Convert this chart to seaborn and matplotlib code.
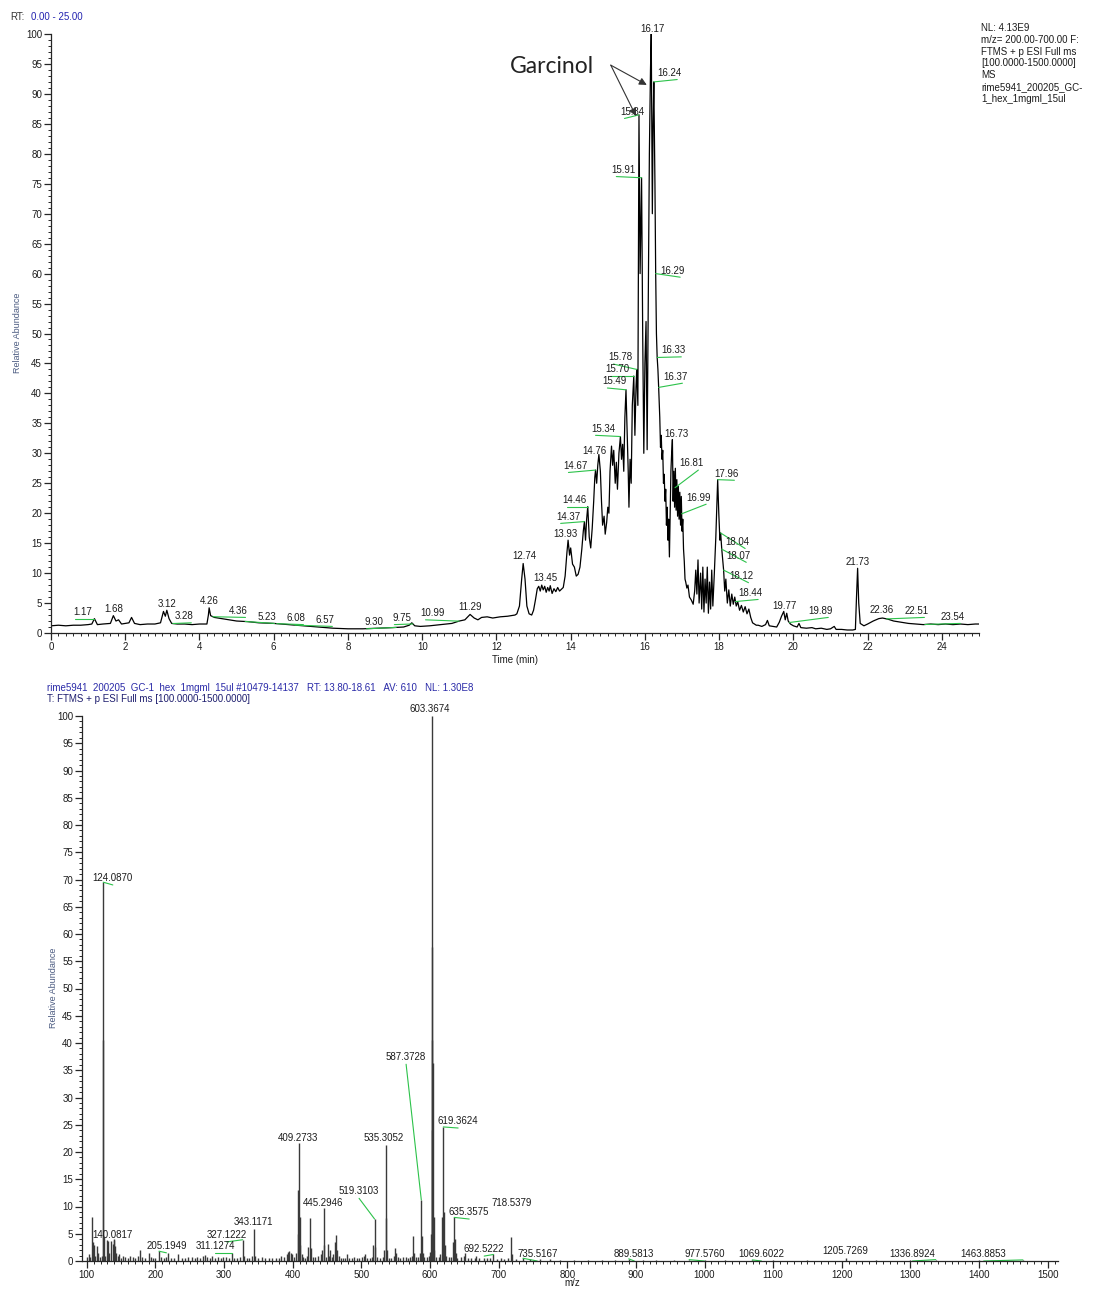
import numpy as np
import pandas as pd
import matplotlib
matplotlib.use("Agg")
import matplotlib.pyplot as plt
from matplotlib.ticker import MultipleLocator
import seaborn as sns

# ---------------- chromatogram (TIC) data ----------------
rt_early = [0.0, 0.2, 0.4, 0.6, 0.8, 1.0, 1.1, 1.17, 1.25, 1.4, 1.6, 1.68, 1.75, 1.82, 1.9, 2.0, 2.1,
            2.17, 2.25, 2.4, 2.6, 2.8, 2.95, 3.03, 3.08, 3.12, 3.18, 3.25, 3.4, 3.6, 3.8, 4.0, 4.2,
            4.24, 4.26, 4.3, 4.4, 4.6, 4.8, 5.0, 5.3, 5.6, 6.0, 6.4, 6.8, 7.2, 7.6, 8.0, 8.4, 8.8,
            9.2, 9.5, 9.65, 9.72, 9.8, 9.95, 10.2, 10.5, 10.8, 11.0, 11.15, 11.29, 11.4, 11.5,
            11.6, 11.75, 11.9, 12.1, 12.3, 12.5]
ab_early = [1.2, 1.3, 1.2, 1.3, 1.3, 1.4, 1.5, 2.4, 1.4, 1.5, 1.6, 2.9, 2.0, 2.2, 1.5, 1.6, 1.7,
            2.6, 1.6, 1.4, 1.5, 1.5, 1.7, 3.6, 2.8, 3.8, 2.4, 1.6, 1.5, 1.5, 1.4, 1.5, 1.5,
            3.0, 4.2, 2.9, 2.6, 2.4, 2.2, 2.0, 1.9, 1.7, 1.6, 1.4, 1.2, 1.0, 0.8, 0.7, 0.7, 0.8,
            0.9, 1.0, 1.3, 1.7, 1.2, 1.1, 1.2, 1.4, 1.6, 2.0, 2.2, 3.1, 2.5, 2.2, 2.6, 2.7, 2.5,
            2.7, 2.8, 3.0]

rt_main = [12.55, 12.62, 12.68, 12.72, 12.77, 12.82, 12.88, 12.95, 13.0, 13.05, 13.1, 13.14, 13.18,
           13.22, 13.26, 13.3, 13.34, 13.38, 13.42, 13.45, 13.5, 13.55, 13.6, 13.65, 13.7, 13.75,
           13.8, 13.85, 13.9, 13.93, 13.97, 14.0, 14.05, 14.1, 14.15, 14.2, 14.25, 14.3, 14.34,
           14.37, 14.4, 14.43, 14.46, 14.5, 14.54, 14.58, 14.62, 14.65, 14.67, 14.7, 14.73, 14.76,
           14.8, 14.83, 14.86, 14.9, 14.93, 14.97, 15.0, 15.03, 15.06, 15.1, 15.13, 15.16, 15.2,
           15.23, 15.26, 15.3, 15.34, 15.37, 15.4, 15.43, 15.46, 15.49, 15.52, 15.55, 15.57, 15.6,
           15.63, 15.66, 15.7, 15.73, 15.76, 15.78, 15.81, 15.84, 15.87, 15.91, 15.94, 15.97, 16.0,
           16.03, 16.06, 16.09, 16.12, 16.15, 16.17, 16.2, 16.22, 16.24, 16.27, 16.29, 16.31,
           16.33, 16.35, 16.37, 16.4, 16.42, 16.44, 16.46, 16.48, 16.5, 16.52, 16.54, 16.56, 16.58,
           16.6, 16.62, 16.64, 16.66, 16.68, 16.7, 16.72, 16.74, 16.76, 16.78, 16.8, 16.82, 16.84,
           16.86, 16.88, 16.9, 16.92, 16.94, 16.96, 16.98, 17.0, 17.02, 17.04, 17.06, 17.08, 17.1,
           17.13, 17.16, 17.2, 17.25, 17.3, 17.34, 17.37, 17.4, 17.43, 17.46, 17.5, 17.53, 17.56,
           17.59, 17.62, 17.65, 17.68, 17.71, 17.74, 17.77, 17.8, 17.83, 17.87, 17.91, 17.94,
           17.96, 17.99, 18.02, 18.04, 18.07, 18.1, 18.12, 18.15, 18.18, 18.22, 18.26, 18.3, 18.34,
           18.38, 18.42, 18.46, 18.5, 18.55, 18.6, 18.65, 18.7, 18.75, 18.8, 18.85, 18.9, 18.95]
ab_main = [3.2, 4.5, 9.0, 11.6, 9.0, 4.5, 3.2, 3.0, 3.8, 5.5, 7.4, 7.8, 7.0,
           8.0, 7.2, 7.8, 6.8, 7.6, 7.0, 7.9, 6.6, 7.4, 6.9, 7.6, 7.0, 7.3,
           7.6, 9.5, 13.5, 15.5, 13.0, 14.2, 11.5, 11.0, 9.5, 9.8, 11.0, 14.0, 17.0,
           18.6, 15.5, 19.0, 21.1, 16.0, 14.2, 17.5, 22.0, 26.0, 27.2, 25.0, 28.0, 29.8,
           27.0, 22.0, 18.0, 19.5, 16.5, 18.5, 21.0, 20.0, 27.0, 31.2, 28.0, 30.5, 25.0,
           28.5, 24.0, 30.0, 32.8, 29.0, 31.5, 27.0, 36.0, 40.6, 34.0, 27.0, 21.0, 29.0,
           25.0, 38.0, 42.9, 33.0, 41.0, 44.0, 38.0, 86.5, 60.0, 76.0, 50.0, 30.0, 45.0,
           52.0, 30.6, 55.0, 80.0, 94.0, 100.0, 70.0, 85.0, 92.0, 75.0, 60.0, 50.0,
           46.0, 44.0, 41.0, 36.0, 31.0, 33.0, 29.0, 30.5, 25.0, 26.5, 22.0, 24.0, 18.0,
           21.0, 15.5, 19.0, 12.7, 20.0, 27.0, 30.0, 32.3, 22.0, 27.0, 21.0, 27.5, 20.5,
           25.6, 19.5, 24.5, 19.0, 23.5, 18.0, 22.8, 17.0, 19.0, 14.0, 12.0, 9.0, 8.5,
           7.5, 8.0, 6.0, 5.5, 4.8, 7.0, 10.5, 6.5, 12.2, 5.0, 10.0, 4.0, 11.0,
           3.5, 9.0, 5.0, 11.0, 3.3, 8.5, 4.0, 10.5, 4.5, 10.0, 16.0, 22.0,
           25.6, 20.0, 15.5, 16.7, 14.0, 12.0, 10.5, 7.0, 9.0, 5.0, 7.2, 4.5, 6.5,
           4.8, 6.0, 4.5, 5.2, 3.8, 4.6, 3.5, 4.4, 3.2, 4.0, 2.6, 1.7, 1.5]

rt_late = [19.0, 19.05, 19.15, 19.25, 19.3, 19.35, 19.45, 19.55, 19.62, 19.68, 19.74, 19.78, 19.82,
           19.86, 19.92, 20.0, 20.1, 20.15, 20.2, 20.35, 20.5, 20.6, 20.75, 20.9, 21.0, 21.1,
           21.15, 21.3, 21.45, 21.6, 21.67, 21.7, 21.73, 21.76, 21.8, 21.9, 22.0, 22.15, 22.3,
           22.4, 22.55, 22.7, 22.9, 23.1, 23.3, 23.5, 23.7, 23.9, 24.1, 24.3, 24.5, 24.7, 24.9, 25.0]
ab_late = [1.3, 1.3, 1.1, 1.4, 2.1, 1.2, 1.1, 1.0, 1.8, 2.8, 3.6, 2.2, 3.3,
           2.0, 1.5, 1.2, 1.0, 1.6, 0.9, 0.8, 0.9, 0.7, 0.8, 0.6, 0.7, 1.1,
           0.6, 0.6, 0.5, 0.5, 0.6, 6.0, 10.8, 5.0, 1.6, 1.2, 1.5, 2.0, 2.4,
           2.5, 2.3, 2.0, 1.8, 1.6, 1.5, 1.4, 1.5, 1.4, 1.5, 1.4, 1.5, 1.4, 1.5, 1.5]

# peak labels (chromatogram) and where their text sits
rt_labels = ['1.17', '1.68', '3.12', '3.28', '4.26', '4.36', '5.23', '6.08', '6.57', '9.30', '9.75',
             '10.99', '11.29', '12.74', '13.45', '13.93', '14.37', '14.46', '14.67', '14.76', '15.34',
             '15.49', '15.70', '15.78', '15.84', '15.91', '16.17', '16.24', '16.29', '16.33', '16.37',
             '16.73', '16.81', '16.99', '17.96', '18.04', '18.07', '18.12', '18.44', '19.77', '19.89',
             '21.73', '22.36', '22.51', '23.54']
rt_lab_x = [0.86, 1.70, 3.12, 3.58, 4.26, 5.04, 5.82, 6.60, 7.38, 8.70, 9.45,
            10.29, 11.29, 12.74, 13.31, 13.85, 13.93, 14.09, 14.14, 14.65, 14.87,
            15.19, 15.27, 15.35, 15.65, 15.43, 16.19, 16.67, 16.75, 16.78, 16.81,
            16.86, 17.24, 17.45, 18.21, 18.50, 18.53, 18.59, 18.85, 19.77, 20.74,
            21.74, 22.38, 23.33, 24.30]
rt_lab_y = [3.5, 4.0, 4.8, 2.8, 5.4, 3.7, 2.7, 2.5, 2.2, 1.8, 2.5,
            3.3, 4.3, 12.9, 9.2, 16.6, 19.4, 22.2, 27.9, 30.4, 34.1,
            42.0, 44.0, 46.0, 87.0, 77.3, 100.9, 93.5, 60.5, 47.2, 42.8,
            33.3, 28.3, 22.6, 26.6, 15.2, 12.9, 9.5, 6.7, 4.5, 3.7,
            11.9, 3.8, 3.7, 2.7]

# ---------------- mass spectrum data ----------------
mz = [101.0, 103.5, 105.1, 107.6, 108.6, 110.1, 112.0, 114.5, 116.1, 119.0, 121.5, 124.087, 124.2,
      125.1, 127.0, 129.5, 131.5, 133.0, 135.5, 137.5, 138.9, 140.08, 141.5, 143.0, 145.0, 147.5,
      150.0, 153.0, 156.0, 160.0, 163.0, 167.0, 170.0, 174.0, 177.5, 181.0, 185.0, 190.0, 193.0,
      196.0, 200.0, 205.19, 208.0, 212.0, 216.0, 219.0, 223.0, 227.0, 233.0, 238.0, 243.0, 248.0,
      253.0, 258.0, 261.0, 265.0, 269.0, 272.0, 275.0, 279.0, 283.0, 287.0, 291.0, 295.0, 299.0,
      303.0, 307.0, 311.13, 315.0, 319.0, 323.0, 327.12, 329.0, 333.0, 337.0, 341.0, 343.12, 345.0,
      350.0, 355.0, 360.0, 365.0, 370.0, 375.0, 380.0, 383.0, 387.0, 391.0, 393.0, 395.0, 397.0,
      399.0, 402.0, 405.0, 407.26, 408.27, 409.27, 410.28, 411.28, 413.0, 415.0, 418.0, 421.0,
      423.0, 425.3, 426.3, 429.0, 433.0, 437.0, 441.0, 443.0, 445.29, 446.3, 448.0, 451.3, 453.0,
      455.0, 457.0, 459.0, 461.3, 463.3, 464.3, 467.0, 470.0, 473.0, 476.0, 479.3, 482.0, 486.0,
      490.0, 494.0, 497.0, 501.0, 503.3, 505.3, 508.0, 512.0, 515.0, 517.3, 519.31, 520.3, 523.0,
      527.0, 531.0, 533.3, 535.31, 536.31, 537.3, 540.0, 543.0, 547.0, 549.3, 550.3, 553.0, 557.0,
      561.0, 565.0, 568.0, 571.0, 573.3, 575.3, 576.3, 579.0, 583.0, 585.3, 587.37, 588.37, 589.3,
      591.0, 595.0, 598.0, 599.3, 601.35, 602.36, 603.37, 603.3, 603.45, 604.37, 605.37, 606.4,
      609.0, 613.0, 615.3, 617.35, 618.35, 619.36, 620.36, 621.4, 623.0, 627.0, 631.0, 633.35,
      635.36, 636.36, 637.4, 640.0, 645.0, 649.4, 651.4, 655.0, 660.0, 665.0, 667.4, 672.0, 678.0,
      683.0, 688.0, 692.52, 698.0, 703.0, 708.0, 713.0, 718.54, 719.5, 725.0, 735.52, 745.0, 760.0,
      775.0, 790.0, 810.0, 830.0, 850.0, 870.0, 889.58, 910.0, 930.0, 955.0, 977.58, 1000.0,
      1030.0, 1069.60, 1100.0, 1150.0, 1205.73, 1250.0, 1300.0, 1336.89, 1400.0, 1463.89]
intensity = [0.8, 1.2, 0.8, 8.0, 3.4, 3.0, 1.0, 2.7, 1.5, 0.7, 1.0, 69.5, 40.5,
             4.4, 1.0, 3.8, 3.7, 1.5, 3.7, 3.2, 4.0, 3.8, 2.7, 1.5, 1.0, 1.2,
             0.6, 1.0, 0.7, 0.6, 1.0, 0.8, 0.6, 0.9, 2.0, 0.8, 0.6, 1.5, 0.8,
             0.5, 0.6, 1.8, 0.8, 0.6, 0.8, 1.4, 0.6, 0.5, 1.2, 0.5, 0.6, 0.7,
             0.8, 0.5, 0.8, 0.6, 1.0, 1.1, 0.8, 0.6, 0.9, 0.6, 0.8, 0.6, 0.8,
             0.7, 0.6, 1.5, 0.6, 0.5, 0.8, 3.9, 1.0, 0.5, 0.6, 0.9, 5.9, 1.0,
             0.5, 0.7, 0.5, 0.6, 0.5, 0.6, 0.6, 0.9, 0.8, 1.2, 1.6, 1.9, 1.5,
             1.2, 0.8, 1.5, 13.0, 5.0, 21.6, 8.0, 3.0, 1.2, 0.8, 0.6, 1.0,
             2.5, 7.8, 2.3, 0.8, 0.8, 1.0, 1.2, 2.0, 9.7, 3.0, 0.8, 3.1, 1.0,
             2.0, 0.8, 1.2, 3.5, 4.8, 2.0, 1.0, 0.6, 0.6, 0.5, 1.3, 0.6, 0.5,
             0.7, 0.5, 0.6, 0.8, 1.0, 1.2, 0.6, 0.5, 0.8, 3.0, 7.7, 2.5, 0.8,
             0.6, 0.8, 2.0, 21.3, 7.9, 2.0, 0.6, 0.5, 1.0, 2.3, 1.5, 0.8, 0.6,
             0.7, 0.8, 0.6, 0.7, 1.0, 4.5, 1.5, 0.8, 0.8, 1.5, 11.2, 4.5, 1.5,
             0.8, 0.7, 1.0, 1.6, 5.0, 24.0, 100.0, 57.6, 40.6, 36.4, 8.0, 2.0,
             0.8, 0.7, 1.2, 8.0, 3.0, 24.6, 9.0, 3.0, 1.0, 0.7, 0.8, 3.5,
             8.0, 4.0, 1.5, 0.6, 0.7, 1.0, 1.5, 0.6, 0.5, 0.6, 1.0, 0.5, 0.5,
             0.6, 0.5, 1.2, 0.4, 0.5, 0.4, 0.5, 4.4, 1.2, 0.4, 0.5, 0.3, 0.3,
             0.3, 0.2, 0.2, 0.2, 0.2, 0.2, 0.4, 0.2, 0.2, 0.2, 0.25, 0.15,
             0.15, 0.2, 0.15, 0.15, 0.6, 0.15, 0.15, 0.25, 0.15, 0.2]

ms_labels = ['124.0870', '140.0817', '205.1949', '311.1274', '327.1222', '343.1171', '409.2733',
             '445.2946', '519.3103', '535.3052', '587.3728', '603.3674', '619.3624', '635.3575',
             '692.5222', '718.5379', '735.5167', '889.5813', '977.5760', '1069.6022', '1205.7269',
             '1336.8924', '1463.8853']
ms_lab_x = [137.9, 137.9, 216.0, 287.3, 303.6, 342.1, 407.7, 444.2, 496.7, 533.1, 565.2, 600.2,
            641.0, 657.1, 679.0, 718.3, 756.3, 897.7, 999.8, 1082.9, 1205.4, 1303.0, 1406.7]
ms_lab_y = [70.3, 4.8, 2.8, 2.8, 4.8, 7.2, 22.6, 10.6, 12.8, 22.6, 37.4, 101.3, 25.7, 9.0,
            2.2, 10.6, 1.3, 1.3, 1.3, 1.3, 1.8, 1.3, 1.3]

# ---------------- drawing ----------------
sns.set_style("ticks")
plt.rcParams['font.family'] = ['Liberation Sans', 'DejaVu Sans']
plt.rcParams['axes.linewidth'] = 0.9

W, H = 1099, 1290
fig = plt.figure(figsize=(W / 100, H / 100), dpi=100)
GREEN = '#2cc24a'
TXT = '#1c1c1c'
YLAB = '#4a5a80'

# ---- top: chromatogram ----
ax1 = fig.add_axes([51 / W, 1 - 633 / H, 928 / W, 599 / H])
tic = pd.DataFrame({'rt': rt_early + rt_main + rt_late, 'abund': ab_early + ab_main + ab_late})
sns.lineplot(data=tic, x='rt', y='abund', ax=ax1, color='black', lw=0.9,
             estimator=None, sort=False)
ax1.set_xlim(0, 25)
ax1.set_ylim(0, 100)
ax1.xaxis.set_major_locator(MultipleLocator(2))
ax1.xaxis.set_minor_locator(MultipleLocator(0.2))
ax1.yaxis.set_major_locator(MultipleLocator(5))
ax1.yaxis.set_minor_locator(MultipleLocator(1))
ax1.tick_params(which='major', length=5, width=0.9, labelsize=7, pad=1.5, labelcolor=TXT)
ax1.tick_params(which='minor', length=2.5, width=0.7)
sns.despine(ax=ax1)
ax1.set_xlabel('Time (min)', fontsize=7, labelpad=2, color=TXT)
ax1.set_ylabel('')
fig.text(18 / W, 1 - 333 / H, 'Relative Abundance', rotation=90, fontsize=6.5, color=YLAB,
         ha='center', va='center')

tic_rt = np.array(tic['rt'])
tic_ab = np.array(tic['abund'])
for lab, tx, ty in zip(rt_labels, rt_lab_x, rt_lab_y):
    pk = float(lab)
    pv = np.interp(pk, tic_rt, tic_ab)
    ax1.text(tx, ty, lab, ha='center', va='center', fontsize=7, color=TXT, clip_on=False)
    if abs(tx - pk) > 0.15:
        d = 1 if tx > pk else -1
        ax1.plot([pk, tx + d * 0.2], [pv, ty - 1.1], color=GREEN, lw=0.8, clip_on=False)

ax1.text(13.5, 94.5, 'Garcinol', ha='center', va='center', fontsize=16.5,
         family=['Lato', 'DejaVu Sans'], color='#222222')
for ex, ey in [(16.05, 91.5), (15.76, 86.3)]:
    ax1.annotate('', xy=(ex, ey), xytext=(15.08, 94.8),
                 arrowprops=dict(arrowstyle='-|>', color='#333333', lw=0.8,
                                 mutation_scale=11, shrinkA=0, shrinkB=0))

fig.text(10 / W, 1 - 17 / H, 'RT:', fontsize=7, color='#333333', va='center')
fig.text(31 / W, 1 - 17 / H, '0.00 - 25.00', fontsize=7, color='#2424b0', va='center')
fig.text(981 / W, 1 - 23 / H,
         'NL: 4.13E9\nm/z= 200.00-700.00 F:\nFTMS + p ESI Full ms\n[100.0000-1500.0000]\nMS\n'
         'rime5941_200205_GC-\n1_hex_1mgml_15ul',
         fontsize=7, color=TXT, va='top', ha='left', linespacing=1.22)

# ---- bottom: mass spectrum ----
ax2 = fig.add_axes([82 / W, 1 - 1261 / H, 976 / W, 545 / H])
ax2.vlines(mz, 0, intensity, colors='#3a3a3a', lw=1.0)
ax2.set_xlim(93, 1515)
ax2.set_ylim(0, 100)
ax2.xaxis.set_major_locator(MultipleLocator(100))
ax2.xaxis.set_minor_locator(MultipleLocator(10))
ax2.yaxis.set_major_locator(MultipleLocator(5))
ax2.yaxis.set_minor_locator(MultipleLocator(1))
ax2.tick_params(which='major', length=5, width=0.9, labelsize=7, pad=1.5, labelcolor=TXT)
ax2.tick_params(which='minor', length=2.5, width=0.7)
sns.despine(ax=ax2)
ax2.set_xlabel('')
ax2.set_ylabel('')
fig.text(572 / W, 1 - 1283 / H, 'm/z', fontsize=7, color=TXT, ha='center', va='center')
fig.text(53 / W, 1 - 988 / H, 'Relative Abundance', rotation=90, fontsize=6.5, color=YLAB,
         ha='center', va='center')

for lab, mx, my in zip(ms_labels, ms_lab_x, ms_lab_y):
    pk = float(lab)
    idx = int(np.argmin(np.abs(np.array(mz) - pk)))
    pv = intensity[idx]
    ax2.text(mx, my, lab, ha='center', va='center', fontsize=7, color=TXT, clip_on=False)
    if abs(mx - pk) > 8:
        ax2.plot([pk, mx], [pv, my - 1.3], color=GREEN, lw=0.8, clip_on=False)

fig.text(47 / W, 1 - 688 / H,
         'rime5941  200205  GC-1  hex  1mgml  15ul #10479-14137   RT: 13.80-18.61   AV: 610   NL: 1.30E8',
         fontsize=7, color='#2a2aa8', va='center')
fig.text(47 / W, 1 - 699 / H, 'T: FTMS + p ESI Full ms [100.0000-1500.0000]',
         fontsize=7, color='#1e1e6e', va='center')

fig.savefig('out.png', dpi=100)
